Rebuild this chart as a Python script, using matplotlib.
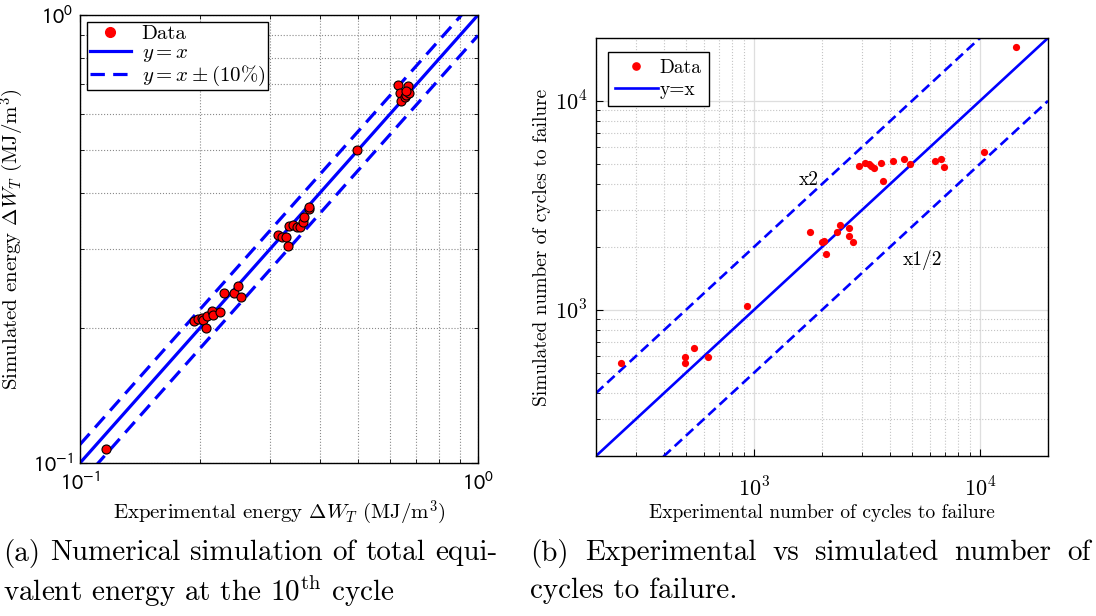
import numpy as np
import matplotlib
matplotlib.use('Agg')
import matplotlib.pyplot as plt
from matplotlib.lines import Line2D
from matplotlib.ticker import NullFormatter

plt.rcParams['font.family'] = ['cmr10', 'DejaVu Serif']
plt.rcParams['mathtext.fontset'] = 'cm'
plt.rcParams['axes.formatter.use_mathtext'] = True
plt.rcParams['axes.unicode_minus'] = False

# ---------------- data ----------------
energy_exp = [0.1162, 0.1936, 0.1982, 0.2020, 0.2039, 0.2080, 0.2141, 0.2161,
              0.2246, 0.2072, 0.2303, 0.2436, 0.2498, 0.2532,
              0.3147, 0.3209, 0.3290, 0.3328, 0.3341, 0.3432, 0.3512, 0.3567,
              0.3637, 0.3658, 0.3751, 0.3765,
              0.4978,
              0.6297, 0.6357, 0.6418, 0.6544, 0.6607, 0.6671, 0.6710, 0.6607]
energy_sim = [0.1074, 0.2070, 0.2095, 0.2106, 0.2081, 0.2124, 0.2180, 0.2143,
              0.2169, 0.2001, 0.2394, 0.2394, 0.2486, 0.2345,
              0.3231, 0.3193, 0.3193, 0.3044, 0.3384, 0.3401, 0.3372, 0.3372,
              0.3459, 0.3537, 0.3686, 0.3724,
              0.5007,
              0.6981, 0.6710, 0.6442, 0.6575, 0.6632, 0.6944, 0.6710, 0.6779]

cycles_exp = [259, 496, 496, 543, 626, 928, 1768, 1991, 2038, 2080, 2342, 2399,
              2628, 2628, 2747, 2910, 3114, 3222, 3299, 3390, 3652, 3727, 4126,
              4632, 4889, 6306, 6750, 6958, 10416, 14470]
cycles_sim = [560, 594, 560, 656, 598, 1045, 2353, 2123, 2138, 1846, 2353, 2560,
              2459, 2268, 2123, 4887, 5070, 4995, 4887, 4762, 5070, 4157, 5183,
              5260, 4995, 5183, 5299, 4834, 5680, 18060]

energy_lims = [0.1, 1.0]
energy_ticks = [0.1, 1.0]
energy_ticklabels = [r'$10^{-1}$', r'$10^{0}$']
energy_tol = 0.10

cycles_lims = [200, 20000]
cycles_ticks = [1e3, 1e4]
cycles_ticklabels = [r'$10^{3}$', r'$10^{4}$']
cycles_factor = 2.0

# ---------------- figure ----------------
W, H = 1096, 616
fig = plt.figure(figsize=(W / 100, H / 100), dpi=100)
blue = (0, 0, 1)
red = (1, 0, 0)

def box(x0, y0, x1, y1):
    return [x0 / W, 1 - y1 / H, (x1 - x0) / W, (y1 - y0) / H]

# ---- left panel ----
ax1 = fig.add_axes(box(80, 15, 478, 463))
ax1.set_xscale('log')
ax1.set_yscale('log')
ax1.set_xlim(energy_lims)
ax1.set_ylim(energy_lims)
lx = np.array(energy_lims)
ax1.plot(energy_exp, energy_sim, 'o', color=red, markeredgecolor='k',
         markeredgewidth=0.8, markersize=6.5, zorder=3)
ax1.plot(lx, lx, '-', color=blue, lw=2.3, zorder=2)
ax1.plot(lx, lx * (1 + energy_tol), '-', color=blue, lw=2.3, dashes=(4.5, 2.6), zorder=2)
ax1.plot(lx, lx * (1 - energy_tol), '-', color=blue, lw=2.3, dashes=(4.5, 2.6), zorder=2)
ax1.grid(True, which='both', linestyle=':', color='#8a8a8a', linewidth=0.8)
ax1.tick_params(which='both', direction='in', top=True, right=True)
ax1.tick_params(which='major', length=5)
ax1.tick_params(which='minor', length=3)
ax1.set_xticks(energy_ticks)
ax1.set_xticklabels(energy_ticklabels)
ax1.set_yticks(energy_ticks)
ax1.set_yticklabels(energy_ticklabels)
ax1.xaxis.set_minor_formatter(NullFormatter())
ax1.yaxis.set_minor_formatter(NullFormatter())
for lbl in ax1.get_xticklabels() + ax1.get_yticklabels():
    lbl.set_math_fontfamily('stixsans')
    lbl.set_fontsize(16)
ax1.tick_params(axis='x', which='major', pad=6)
ax1.tick_params(axis='y', which='major', pad=5)
for s in ax1.spines.values():
    s.set_linewidth(1.0)
ax1.set_xlabel(r'Experimental energy $\Delta W_T$ (MJ/m$^3$)', fontsize=15)
ax1.set_ylabel(r'Simulated energy $\Delta W_T$ (MJ/m$^3$)', fontsize=15)
ax1.xaxis.set_label_coords(0.5, -0.08)
ax1.yaxis.set_label_coords(-0.135, 0.5)
h1 = [Line2D([], [], ls='none', marker='o', color=red, markersize=7),
      Line2D([], [], color=blue, lw=2.3),
      Line2D([], [], color=blue, lw=2.3, dashes=(4.5, 2.6))]
leg1 = ax1.legend(h1, ['Data', r'$y = x$', r'$y = x \pm (10\%)$'],
                  loc='upper left', bbox_to_anchor=(0.018, 0.984), borderaxespad=0,
                  fontsize=15, labelspacing=0.0, handlelength=2.0, handletextpad=0.5,
                  borderpad=0.12, fancybox=False, framealpha=1, edgecolor='k')
leg1.get_frame().set_linewidth(1.0)

# ---- right panel ----
ax2 = fig.add_axes(box(596, 38, 1048, 456))
ax2.set_xscale('log')
ax2.set_yscale('log')
ax2.set_xlim(cycles_lims)
ax2.set_ylim(cycles_lims)
cx = np.array(cycles_lims)
ax2.plot(cycles_exp, cycles_sim, 'o', color=red, markeredgewidth=0,
         markersize=5.2, zorder=3)
ax2.plot(cx, cx, '-', color=blue, lw=1.9, zorder=2)
ax2.plot(cx, cx * cycles_factor, '-', color=blue, lw=1.9, dashes=(3.8, 2.0), zorder=2)
ax2.plot(cx, cx / cycles_factor, '-', color=blue, lw=1.9, dashes=(3.8, 2.0), zorder=2)
ax2.grid(True, which='major', linestyle='-', color='#dedede', linewidth=0.9)
ax2.grid(True, which='minor', linestyle=':', color='#c4c4c4', linewidth=0.8)
ax2.tick_params(which='both', direction='in')
ax2.tick_params(which='major', length=5)
ax2.tick_params(which='minor', length=3)
ax2.set_xticks(cycles_ticks)
ax2.set_xticklabels(cycles_ticklabels)
ax2.set_yticks(cycles_ticks)
ax2.set_yticklabels(cycles_ticklabels)
ax2.xaxis.set_minor_formatter(NullFormatter())
ax2.yaxis.set_minor_formatter(NullFormatter())
for lbl in ax2.get_xticklabels() + ax2.get_yticklabels():
    lbl.set_fontsize(16)
ax2.tick_params(axis='x', which='major', pad=15)
ax2.tick_params(axis='y', which='major', pad=6)
for s in ax2.spines.values():
    s.set_linewidth(1.0)
ax2.set_xlabel('Experimental number of cycles to failure', fontsize=14)
ax2.set_ylabel('Simulated number of cycles to failure', fontsize=14)
ax2.xaxis.set_label_coords(0.5, -0.115)
ax2.yaxis.set_label_coords(-0.1, 0.5)
ax2.text(1750, 4190, 'x2', fontsize=14, ha='center', va='center')
ax2.text(5546, 1734, 'x1/2', fontsize=14, ha='center', va='center')
h2 = [Line2D([], [], ls='none', marker='o', color=red, markersize=5.2),
      Line2D([], [], color=blue, lw=1.9)]
leg2 = ax2.legend(h2, ['Data', 'y=x'], loc='upper left',
                  bbox_to_anchor=(0.027, 0.967), borderaxespad=0,
                  fontsize=14, labelspacing=0.25, handlelength=2.2, handletextpad=0.1,
                  borderpad=0.35, fancybox=False, framealpha=1, edgecolor='k')
leg2.get_frame().set_linewidth(1.0)

# ---- captions (justified) ----
renderer = fig.canvas.get_renderer()

def justified(text, x0, x1, y, fs):
    words = text.split(' ')
    ts = [fig.text(0, 1 - y / H, w, fontsize=fs, va='center', ha='left') for w in words]
    widths = [t.get_window_extent(renderer).width for t in ts]
    gap = (x1 - x0 - sum(widths)) / (len(words) - 1)
    x = x0
    for t, w in zip(ts, widths):
        t.set_x(x / W)
        x += w + gap

cap_fs = 21
justified('(a) Numerical simulation of total equi-', 3, 497, 553, cap_fs)
fig.text(3 / W, 1 - 591 / H, r'valent energy at the 10$^{\mathrm{th}}$ cycle',
         fontsize=cap_fs, va='center', ha='left')
justified('(b) Experimental vs simulated number of', 530, 1091, 553, cap_fs)
fig.text(530 / W, 1 - 591 / H, 'cycles to failure.', fontsize=cap_fs,
         va='center', ha='left')

fig.savefig('out.png', dpi=100)
